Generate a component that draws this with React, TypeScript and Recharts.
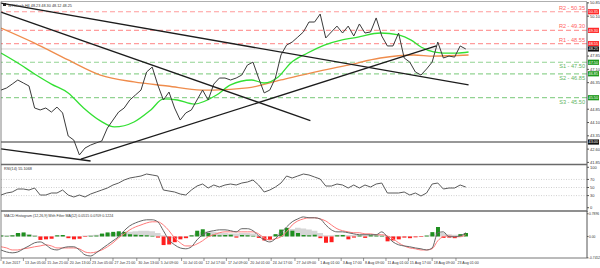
import React from "react";
import {
  ComposedChart,
  Line,
  Bar,
  Cell,
  Area,
  XAxis,
  YAxis,
  ReferenceLine,
} from "recharts";

// H4 candles between two samples of the price / indicator series
const BAR_STEP = 4;
const X_DOMAIN: [number, number] = [0, 418.6];

const closes = [
  45.93, 46.05, 46.27, 46.5, 46.33, 46.16, 44.92, 44.81, 44.92, 44.69,
  44.97, 44.64, 43.34, 43.11, 42.27, 42.66, 42.83, 42.95, 43.06, 43.79,
  44.24, 44.69, 44.92, 45.37, 45.65, 45.93, 46.95, 47.23, 46.22, 45.37,
  45.82, 44.92, 44.24, 44.64, 44.81, 45.37, 45.93, 45.37, 46.27, 46.61,
  46.61, 46.5, 46.61, 46.78, 47.34, 47.51, 46.61, 45.77, 45.93, 46.61,
  47.91, 48.47, 48.64, 48.92, 49.21, 49.77, 49.77, 50.22, 48.87, 49.21,
  49.54, 49.15, 49.54, 48.98, 49.66, 49.15, 49.21, 50.0, 48.98, 48.42,
  48.42, 49.15, 47.74, 47.51, 46.95, 46.78, 47.12, 47.51, 48.64, 47.74,
  47.85, 47.79, 48.42, 48.25,
];

const rsiValues = [
  31.4, 36.4, 38.9, 46.3, 46.3, 43.8, 48.8, 31.4, 31.4, 36.4,
  36.4, 43.8, 31.4, 26.5, 31.4, 26.5, 33.9, 38.9, 43.8, 48.8,
  56.2, 61.1, 68.6, 73.5, 76.0, 78.5, 83.4, 81.0, 78.5, 43.8,
  41.3, 38.9, 33.9, 31.4, 43.8, 53.7, 58.7, 48.8, 56.2, 51.2,
  56.2, 58.7, 56.2, 61.1, 63.6, 68.6, 56.2, 38.9, 43.8, 51.2,
  61.1, 78.5, 73.5, 78.5, 83.4, 81.0, 76.0, 71.0, 53.7, 53.7,
  58.7, 56.2, 48.8, 56.2, 48.8, 56.2, 51.2, 58.7, 61.1, 36.4,
  36.4, 36.4, 38.9, 31.4, 36.4, 29.0, 36.4, 58.7, 61.1, 46.3,
  48.8, 48.8, 56.2, 51.2,
];

const macdMain = [
  -0.47, -0.54, -0.57, -0.54, -0.43, -0.33, -0.22, -0.19, -0.29, -0.43,
  -0.47, -0.4, -0.36, -0.36, -0.47, -0.64, -0.68, -0.57, -0.43, -0.29,
  -0.15, -0.01, 0.2, 0.37, 0.47, 0.54, 0.58, 0.58, 0.51, 0.2,
  -0.12, -0.29, -0.4, -0.43, -0.36, -0.12, 0.06, 0.16, 0.2, 0.23,
  0.23, 0.2, 0.16, 0.27, 0.27, 0.2, 0.02, -0.12, -0.19, -0.08,
  0.13, 0.33, 0.51, 0.61, 0.68, 0.65, 0.65, 0.61, 0.4, 0.23,
  0.16, 0.16, 0.13, 0.09, 0.06, 0.06, 0.06, 0.06, 0.16, -0.01,
  -0.19, -0.29, -0.33, -0.36, -0.4, -0.43, -0.47, -0.4, 0.13, 0.16,
  -0.01, -0.01, 0.02, 0.13,
];

const macdSignal = [
  -0.36, -0.4, -0.47, -0.47, -0.43, -0.4, -0.36, -0.33, -0.29, -0.33,
  -0.4, -0.4, -0.4, -0.4, -0.43, -0.54, -0.57, -0.54, -0.47, -0.36,
  -0.22, -0.05, 0.09, 0.23, 0.33, 0.4, 0.47, 0.51, 0.51, 0.4,
  0.2, -0.05, -0.22, -0.33, -0.33, -0.26, -0.15, -0.01, 0.06, 0.13,
  0.16, 0.16, 0.16, 0.16, 0.16, 0.16, 0.09, -0.05, -0.12, -0.08,
  -0.01, 0.16, 0.4, 0.54, 0.61, 0.65, 0.65, 0.61, 0.54, 0.4,
  0.27, 0.2, 0.16, 0.13, 0.13, 0.09, 0.09, 0.06, 0.06, 0.02,
  -0.08, -0.22, -0.33, -0.4, -0.43, -0.47, -0.47, -0.43, -0.15, -0.01,
  0.02, -0.01, -0.01, 0.06,
];

const macdHist = [
  0.03, 0.02, 0.04, 0.12, 0.14, 0.06, 0.02, -0.12, -0.1, -0.08,
  0.04, 0.05, -0.06, -0.1, -0.08, -0.02, 0.02, 0.03, 0.1, 0.14,
  0.16, 0.18, 0.16, 0.08, 0.06, 0.05, 0.04, 0.02, -0.04, -0.3,
  -0.28, -0.2, -0.1, -0.06, 0.04, 0.2, 0.25, 0.12, 0.06, 0.04,
  0.05, 0.06, -0.04, 0.05, 0.04, 0.02, -0.05, -0.14, -0.12, 0.08,
  0.24, 0.3, 0.2, 0.12, 0.05, 0.04, 0.06, -0.06, -0.22, -0.2,
  0.04, 0.05, -0.1, -0.04, 0.03, -0.05, 0.04, 0.03, 0.02, -0.17,
  -0.14, -0.1, -0.04, -0.06, -0.03, -0.02, 0.03, 0.15, 0.33, -0.05,
  -0.04, -0.06, 0.08, 0.12,
];

const macdFilter = [
  0.05, 0.04, 0.05, 0.1, 0.1, 0.08, 0.05, -0.04, -0.04, -0.03,
  0.03, 0.04, -0.03, -0.04, -0.03, 0.03, 0.05, 0.06, 0.08, 0.1,
  0.12, 0.14, 0.14, 0.16, 0.18, 0.2, 0.2, 0.18, 0.12, 0.04,
  -0.04, -0.06, -0.05, -0.04, 0.04, 0.1, 0.16, 0.18, 0.16, 0.14,
  0.12, 0.1, 0.1, 0.12, 0.12, 0.1, 0.04, -0.03, -0.03, 0.06,
  0.14, 0.2, 0.26, 0.3, 0.28, 0.24, 0.2, 0.12, 0.04, 0.04,
  0.06, 0.06, 0.05, 0.05, 0.05, 0.04, 0.05, 0.05, 0.05, -0.03,
  -0.04, -0.04, -0.03, -0.03, -0.02, -0.02, 0.03, 0.08, 0.14, 0.12,
  0.08, 0.06, 0.06, 0.08,
];

// moving averages, sampled where they could be read
const fastMaBars = [0, 12, 24, 36, 48, 59, 71, 81, 95, 107, 116, 126, 138, 154, 164, 179, 188, 198, 207, 219, 231, 243, 255, 271, 284, 293, 300, 309, 316, 326, 334];
const fastMaValues = [48.02, 47.46, 46.84, 46.27, 45.77, 44.92, 44.19, 43.85, 44.13, 44.81, 45.43, 45.37, 45.14, 45.65, 46.22, 46.5, 46.33, 46.67, 47.46, 48.02, 48.47, 48.75, 48.92, 49.15, 49.04, 48.75, 48.36, 48.08, 48.02, 48.02, 48.08];
const slowMaBars = [0, 24, 48, 71, 95, 119, 143, 152, 176, 200, 224, 248, 271, 295, 309, 334];
const slowMaValues = [49.43, 48.58, 47.63, 46.78, 46.39, 46.16, 45.93, 45.93, 46.05, 46.5, 46.95, 47.34, 47.74, 47.91, 47.85, 47.91];

// trendlines: [bar1, price1, bar2, price2]
const trendLines = [
  [0, 50.84, 334, 46.22],
  [0, 50.33, 221, 44.21],
  [57, 42.04, 311, 48.42],
  [0, 42.61, 64, 41.93],
];

const levelNames = ["R2", "R2", "R1", "S1", "S2", "S3"];
const levelValues = [50.35, 49.3, 48.55, 47.5, 46.85, 45.5];
const supportLine = 43.0;
const lastPrice = 48.25;

const priceTicks = [50.85, 50.1, 47.85, 47.1, 46.35, 44.85, 44.1, 43.35, 42.6, 41.85];
const rsiTicks = [100, 70, 50, 30, 0];
const rsiGrid = [70, 50, 30];
const macdTicks = [0.7896, 0, -0.7452];

const timeTickBars = [0, 16, 32, 48, 64, 80, 97, 113, 129, 145, 161, 177, 193, 210, 227, 243, 259, 275, 291, 308, 325];
const timeLabels = [
  "8 Jun 2017", "13 Jun 05:00", "15 Jun 21:00", "20 Jun 13:00", "23 Jun 05:00",
  "27 Jun 21:00", "30 Jun 13:00", "5 Jul 09:00", "10 Jul 01:00", "12 Jul 17:00",
  "17 Jul 09:00", "20 Jul 01:00", "24 Jul 17:00", "27 Jul 09:00", "1 Aug 01:00",
  "3 Aug 17:00", "8 Aug 09:00", "11 Aug 01:00", "15 Aug 17:00", "18 Aug 09:00",
  "23 Aug 01:00",
];

const FONT = "'Liberation Sans', Arial, sans-serif";
const RED_LINE = "#ff9c9c";
const GREEN_LINE = "#92d392";

const priceData = closes.map((close, i) => ({ bar: i * BAR_STEP, close }));
const indicatorData = closes.map((_, i) => ({
  bar: i * BAR_STEP,
  rsi: rsiValues[i],
  macd: macdMain[i],
  signal: macdSignal[i],
  hist: macdHist[i],
  filter: macdFilter[i],
}));
const fastMa = fastMaBars.map((bar, i) => ({ bar, ma: fastMaValues[i] }));
const slowMa = slowMaBars.map((bar, i) => ({ bar, ma: slowMaValues[i] }));

function LevelTag(props: any) {
  const { viewBox, text, color, above, boxFill, boxText } = props;
  if (!viewBox) return null;
  const right = viewBox.x + viewBox.width;
  const y = viewBox.y;
  return (
    <g fontFamily={FONT}>
      {text && (
        <text x={right - 2} y={above ? y - 2 : y + 6} textAnchor="end" fontSize={5.6} fill={color}>
          {text}
        </text>
      )}
      <rect x={right + 1} y={y - 2.6} width={11} height={5.2} fill={boxFill} />
      <text x={right + 1.6} y={y + 1.4} fontSize={3.8} fill="#fff">
        {boxText}
      </text>
    </g>
  );
}

function TimeTick(props: any) {
  const { x, y, payload } = props;
  const idx = timeTickBars.indexOf(payload.value);
  return (
    <g>
      <line x1={x} x2={x} y1={y - 2} y2={y + 1} stroke="#555" strokeWidth={0.6} />
      <text x={x + 1.5} y={y + 4} fontSize={3.6} fill="#333" fontFamily={FONT}>
        {timeLabels[idx]}
      </text>
    </g>
  );
}

const axisTick = { fontSize: 4, fill: "#333", fontFamily: FONT };
const smallAxisTick = { fontSize: 3.3, fill: "#333", fontFamily: FONT };

function PriceChart() {
  return (
    <ComposedChart width={600} height={164} data={priceData} margin={{ top: 2, right: 0, bottom: 0, left: 1 }}>
      <XAxis type="number" dataKey="bar" domain={X_DOMAIN} hide allowDataOverflow />
      <YAxis
        orientation="right"
        width={13}
        domain={[41.76, 50.9]}
        ticks={priceTicks}
        interval={0}
        tick={axisTick}
        tickSize={2}
        tickMargin={1}
        axisLine={{ stroke: "#555" }}
        tickLine={{ stroke: "#555" }}
        tickFormatter={(v: number) => v.toFixed(2)}
        allowDataOverflow
      />
      {levelValues.map((v, i) => {
        const resistance = levelNames[i].startsWith("R");
        return (
          <ReferenceLine
            key={i}
            y={v}
            stroke={resistance ? RED_LINE : GREEN_LINE}
            strokeWidth={1.2}
            strokeDasharray="5 3"
            label={
              <LevelTag
                text={`${levelNames[i]} - ${v.toFixed(2)}`}
                color={resistance ? "#ff6464" : "#5fb55f"}
                above={resistance}
                boxFill={resistance ? "#ff2a2a" : "#1f9a1f"}
                boxText={v.toFixed(2)}
              />
            }
          />
        );
      })}
      <ReferenceLine y={lastPrice} stroke="#c8c8c8" strokeWidth={0.8} label={<LevelTag boxFill="#111" boxText={lastPrice.toFixed(2)} />} />
      <ReferenceLine y={supportLine} stroke="#333" strokeWidth={1.2} label={<LevelTag boxFill="#111" boxText={supportLine.toFixed(2)} />} />
      <Line data={slowMa} dataKey="ma" type="monotone" stroke="#ef8c4c" strokeWidth={1.3} dot={false} isAnimationActive={false} />
      <Line data={fastMa} dataKey="ma" type="monotone" stroke="#33e033" strokeWidth={1.3} dot={false} isAnimationActive={false} />
      <Line dataKey="close" type="linear" stroke="#3a3a3a" strokeWidth={1} dot={false} isAnimationActive={false} />
      {trendLines.map((t, i) => (
        <ReferenceLine
          key={`t${i}`}
          segment={[
            { x: t[0], y: t[1] },
            { x: t[2], y: t[3] },
          ]}
          stroke="#1c1c1c"
          strokeWidth={1.3}
          ifOverflow="visible"
        />
      ))}
    </ComposedChart>
  );
}

function RsiChart() {
  return (
    <ComposedChart width={600} height={48} data={indicatorData} margin={{ top: 0, right: 0, bottom: 0, left: 1 }}>
      <XAxis type="number" dataKey="bar" domain={X_DOMAIN} hide allowDataOverflow />
      <YAxis
        orientation="right"
        width={13}
        domain={[-10.6, 108.2]}
        ticks={rsiTicks}
        interval={0}
        tick={axisTick}
        tickSize={2}
        tickMargin={1}
        axisLine={{ stroke: "#555" }}
        tickLine={{ stroke: "#555" }}
        allowDataOverflow
      />
      {rsiGrid.map((v) => (
        <ReferenceLine key={v} y={v} stroke="#c4c4c4" strokeWidth={0.8} strokeDasharray="1 1.5" />
      ))}
      <Line dataKey="rsi" type="linear" stroke="#5a5a5a" strokeWidth={1} dot={false} isAnimationActive={false} />
    </ComposedChart>
  );
}

function MacdChart() {
  return (
    <ComposedChart width={600} height={57} data={indicatorData} margin={{ top: 0, right: 0, bottom: 0, left: 1 }}>
      <XAxis
        type="number"
        dataKey="bar"
        domain={X_DOMAIN}
        ticks={timeTickBars}
        interval={0}
        height={10}
        tickSize={2}
        tickMargin={0}
        tickLine={false}
        axisLine={{ stroke: "#777" }}
        tick={<TimeTick />}
        allowDataOverflow
      />
      <YAxis
        orientation="right"
        width={13}
        domain={[-0.75, 0.886]}
        ticks={macdTicks}
        interval={0}
        tick={smallAxisTick}
        tickSize={1.5}
        tickMargin={0.5}
        axisLine={{ stroke: "#555" }}
        tickLine={{ stroke: "#555" }}
        tickFormatter={(v: number) => (v === 0 ? "0.00" : v.toFixed(4))}
        allowDataOverflow
      />
      <Area dataKey="filter" type="step" baseValue={0} stroke="none" fill="#d6d6d6" fillOpacity={1} isAnimationActive={false} />
      <Bar dataKey="hist" barSize={4} isAnimationActive={false}>
        {indicatorData.map((d, i) => (
          <Cell key={i} fill={d.hist >= 0 ? "#1f8f1f" : "#ff1f1f"} />
        ))}
      </Bar>
      <Line dataKey="signal" type="monotone" stroke="#ff7a7a" strokeWidth={1} dot={false} isAnimationActive={false} />
      <Line dataKey="macd" type="monotone" stroke="#666" strokeWidth={1} dot={false} isAnimationActive={false} />
    </ComposedChart>
  );
}

export default function App() {
  return (
    <div style={{ position: "absolute", left: 0, top: 0, width: 600, height: 268, background: "#fff", overflow: "hidden" }}>
      <div style={{ position: "absolute", left: 0, top: 0 }}>
        <PriceChart />
      </div>
      <div style={{ position: "absolute", left: 0, top: 164 }}>
        <RsiChart />
      </div>
      <div style={{ position: "absolute", left: 0, top: 211 }}>
        <MacdChart />
      </div>
      <svg width={600} height={268} style={{ position: "absolute", left: 0, top: 0, pointerEvents: "none" }}>
        <line x1={1} x2={587} y1={1.5} y2={1.5} stroke="#9a9a9a" strokeWidth={0.8} />
        <line x1={1} x2={1} y1={1.5} y2={258} stroke="#666" strokeWidth={0.8} />
        <line x1={1} x2={587} y1={164.5} y2={164.5} stroke="#6a6a6a" strokeWidth={1.6} />
        <line x1={1} x2={587} y1={211} y2={211} stroke="#6a6a6a" strokeWidth={1.6} />
        <g fontFamily={FONT} fill="#333">
          <rect x={3} y={3} width={3} height={3} fill="#222" />
          <text x={8} y={6.5} fontSize={3.8}>WTICash,H4  48.23 48.30 48.12 48.25</text>
          <text x={4} y={169.5} fontSize={3.8}>RSI(14) 55.1068</text>
          <text x={4} y={216.5} fontSize={3.6}>MACD Histogram (12,26,9) With Filter MA(12) 0.0515 0.0709 0.1224</text>
        </g>
      </svg>
    </div>
  );
}
